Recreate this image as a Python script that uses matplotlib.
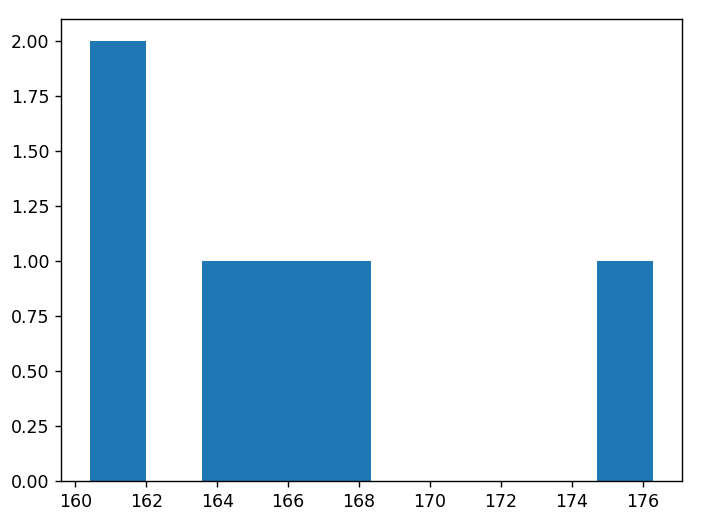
import matplotlib
matplotlib.use("Agg")
import matplotlib.pyplot as plt

alturas = [160.4, 161.2, 164.4, 166.0, 167.5, 176.3]

# dpi 125 -> letras y ticks algo mas grandes, como en la referencia
fig = plt.figure(figsize=(701 / 125, 520 / 125), dpi=125)
plt.subplots_adjust(left=0.0877, right=0.9722, top=0.9644, bottom=0.075)
plt.hist(alturas)
plt.savefig("out.png", dpi=125)
